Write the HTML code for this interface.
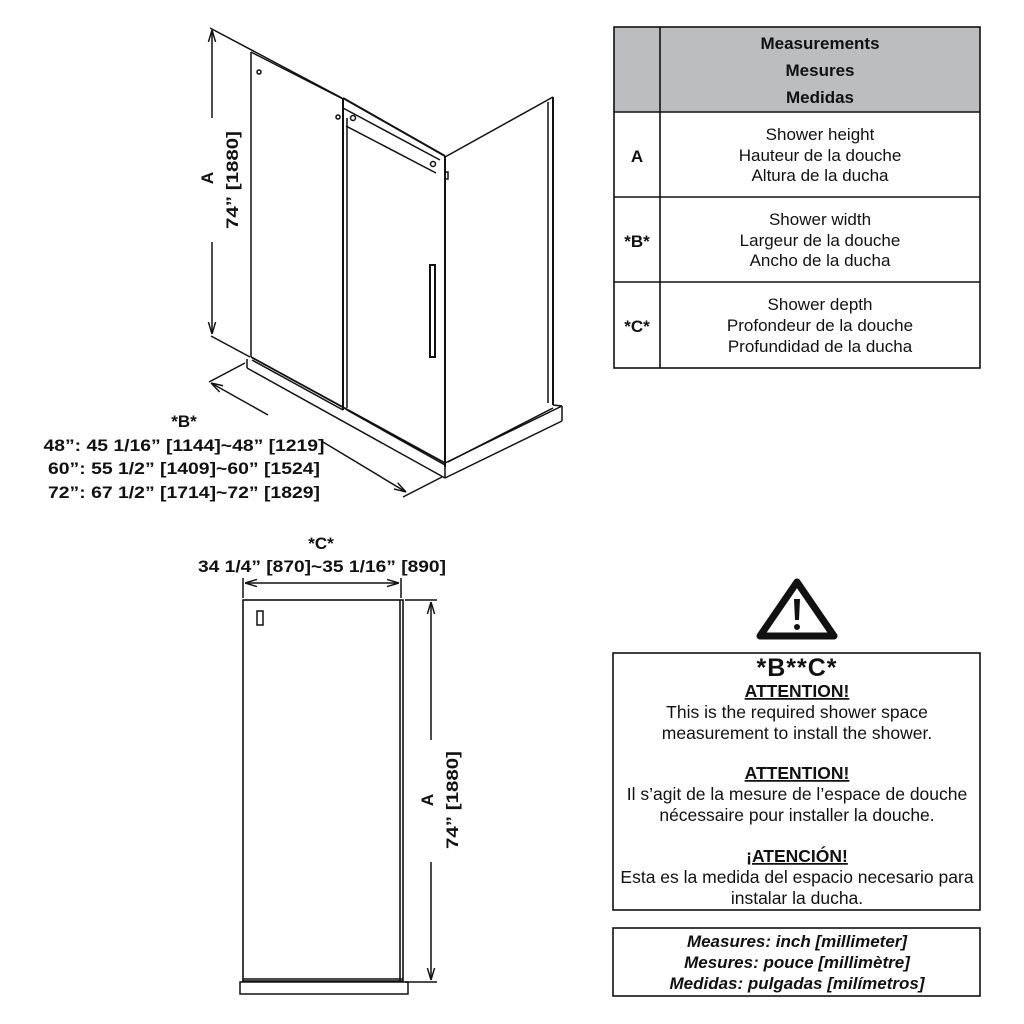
<!DOCTYPE html>
<html><head><meta charset="utf-8"><style>
html,body{margin:0;padding:0;background:#fff;}
svg{display:block;}
text{font-family:"Liberation Sans",Arial,sans-serif;fill:#111;}
</style></head><body>
<svg width="1024" height="1024" viewBox="0 0 1024 1024" xmlns="http://www.w3.org/2000/svg">
<defs>
<marker id="ar" viewBox="0 0 10 10" refX="10" refY="5" markerWidth="8" markerHeight="8" orient="auto-start-reverse"><path d="M0,2 L10,5 L0,8" fill="none" stroke="#111" stroke-width="1.2"/></marker>
</defs>
<g stroke="#111" fill="none" stroke-width="1.5">
<line x1="210" y1="28" x2="342" y2="98"/>
<line x1="211" y1="336" x2="250" y2="357"/>
<line x1="212" y1="30" x2="212" y2="118" marker-start="url(#ar)"/>
<line x1="212" y1="242" x2="212" y2="334" marker-end="url(#ar)"/>
<line x1="251" y1="52" x2="251" y2="357"/>
<line x1="251" y1="52" x2="343" y2="99"/>
<circle cx="259" cy="72" r="2"/>
<polyline points="343,98 445,156" stroke-width="2"/>
<line x1="343" y1="98" x2="343" y2="410" stroke-width="2"/>
<line x1="347" y1="118" x2="347" y2="408"/>
<line x1="343" y1="108" x2="440" y2="160"/>
<line x1="346" y1="126" x2="436" y2="173"/>
<circle cx="338" cy="117" r="2"/><circle cx="353" cy="118" r="2.5"/>
<circle cx="433" cy="164" r="2.5"/>
<rect x="445" y="172" width="3" height="7"/>
<line x1="445" y1="156" x2="445" y2="467" stroke-width="2"/>
<rect x="430" y="265" width="5" height="92" stroke-width="2"/>
<line x1="445" y1="157" x2="553" y2="97"/>
<line x1="553" y1="97" x2="553" y2="405" stroke-width="2"/>
<line x1="548" y1="102" x2="548" y2="403"/>
<line x1="251" y1="357" x2="445" y2="463" stroke-width="1.8"/>
<line x1="252" y1="360" x2="343" y2="410"/>
<line x1="347" y1="410" x2="445" y2="465"/>
<line x1="247" y1="359" x2="247" y2="368"/>
<line x1="247" y1="368" x2="445" y2="478"/>
<line x1="445" y1="463" x2="445" y2="478"/>
<line x1="445" y1="463" x2="562" y2="406"/>
<line x1="448" y1="462" x2="553" y2="408"/>
<line x1="445" y1="478" x2="562" y2="421"/>
<line x1="562" y1="406" x2="562" y2="421"/>
<line x1="553" y1="405" x2="562" y2="406"/>
<line x1="245" y1="363" x2="209" y2="382"/>
<line x1="442" y1="477" x2="403" y2="497"/>
<line x1="211" y1="383" x2="268" y2="415" marker-start="url(#ar)"/>
<line x1="323" y1="442" x2="406" y2="492" marker-end="url(#ar)"/>
<rect x="243" y="600" width="160" height="381" stroke-width="1.6"/>
<line x1="400" y1="600" x2="400" y2="981" stroke-width="1.6"/>
<line x1="243" y1="979" x2="403" y2="979" stroke-width="1.6"/>
<rect x="240" y="982" width="168" height="12"/>
<rect x="257" y="611" width="6" height="14"/>
<line x1="243" y1="578" x2="243" y2="598"/>
<line x1="401" y1="578" x2="401" y2="598"/>
<line x1="245" y1="583" x2="399" y2="583" marker-start="url(#ar)" marker-end="url(#ar)"/>
<line x1="405" y1="600" x2="437" y2="600"/>
<line x1="405" y1="982" x2="437" y2="982"/>
<line x1="431" y1="602" x2="431" y2="740" marker-start="url(#ar)"/>
<line x1="431" y1="862" x2="431" y2="980" marker-end="url(#ar)"/>
<rect x="614" y="27" width="366" height="85" fill="#bcbdbf" stroke="none"/>
<rect x="614" y="27" width="366" height="341" stroke-width="1.6"/>
<line x1="660" y1="27" x2="660" y2="368" stroke-width="1.6"/>
<line x1="614" y1="112" x2="980" y2="112" stroke-width="1.6"/>
<line x1="614" y1="197" x2="980" y2="197" stroke-width="1.6"/>
<line x1="614" y1="282" x2="980" y2="282" stroke-width="1.6"/>
<path d="M797,582 L834,636 L760,636 Z" stroke-width="7" stroke-linejoin="round"/>
<rect x="613" y="653" width="367" height="257" stroke-width="1.6"/>
<rect x="613" y="928" width="367" height="68" stroke-width="1.6"/>
</g>
<path d="M794,599 L800,599 L799,620 L795,620 Z" fill="#111"/>
<circle cx="797" cy="627" r="3" fill="#111"/>
<g font-size="17" font-weight="bold" text-anchor="middle">
<text x="207" y="184" transform="rotate(-90 207 178)">A</text>
<text x="233" y="185" transform="rotate(-90 233 180)" textLength="98" lengthAdjust="spacingAndGlyphs">74” [1880]</text>
<text x="184" y="427">*B*</text>
<text x="184" y="451" textLength="281" lengthAdjust="spacingAndGlyphs">48”: 45 1/16” [1144]~48” [1219]</text>
<text x="184" y="474" textLength="272" lengthAdjust="spacingAndGlyphs">60”: 55 1/2” [1409]~60” [1524]</text>
<text x="184" y="498" textLength="272" lengthAdjust="spacingAndGlyphs">72”: 67 1/2” [1714]~72” [1829]</text>
<text x="321" y="549">*C*</text>
<text x="322" y="572" textLength="248" lengthAdjust="spacingAndGlyphs">34 1/4” [870]~35 1/16” [890]</text>
<text x="427" y="806" transform="rotate(-90 427 800)">A</text>
<text x="452" y="806" transform="rotate(-90 452 800)" textLength="98" lengthAdjust="spacingAndGlyphs">74” [1880]</text>
</g>
<g font-size="17" text-anchor="middle">
<text x="820" y="49" font-weight="bold">Measurements</text>
<text x="820" y="76" font-weight="bold">Mesures</text>
<text x="820" y="103" font-weight="bold">Medidas</text>
<text x="637" y="162" font-weight="bold">A</text>
<text x="637" y="247" font-weight="bold">*B*</text>
<text x="637" y="332" font-weight="bold">*C*</text>
<text x="820" y="140">Shower height</text>
<text x="820" y="161">Hauteur de la douche</text>
<text x="820" y="181">Altura de la ducha</text>
<text x="820" y="225">Shower width</text>
<text x="820" y="246">Largeur de la douche</text>
<text x="820" y="266">Ancho de la ducha</text>
<text x="820" y="310">Shower depth</text>
<text x="820" y="331">Profondeur de la douche</text>
<text x="820" y="352">Profundidad de la ducha</text>
</g>
<g text-anchor="middle" font-size="17.5">
<text x="797" y="676" font-size="25" font-weight="bold" letter-spacing="1">*B**C*</text>
<text x="797" y="697" font-weight="bold" text-decoration="underline">ATTENTION!</text>
<text x="797" y="718">This is the required shower space</text>
<text x="797" y="739">measurement to install the shower.</text>
<text x="797" y="779" font-weight="bold" text-decoration="underline">ATTENTION!</text>
<text x="797" y="800">Il s’agit de la mesure de l’espace de douche</text>
<text x="797" y="821">nécessaire pour installer la douche.</text>
<text x="797" y="862" font-weight="bold" text-decoration="underline">¡ATENCIÓN!</text>
<text x="797" y="883">Esta es la medida del espacio necesario para</text>
<text x="797" y="904">instalar la ducha.</text>
<text x="797" y="947" font-weight="bold" font-style="italic" font-size="17">Measures: inch [millimeter]</text>
<text x="797" y="968" font-weight="bold" font-style="italic" font-size="17">Mesures: pouce [millimètre]</text>
<text x="797" y="989" font-weight="bold" font-style="italic" font-size="17">Medidas: pulgadas [milímetros]</text>
</g>
</svg>
</body></html>
